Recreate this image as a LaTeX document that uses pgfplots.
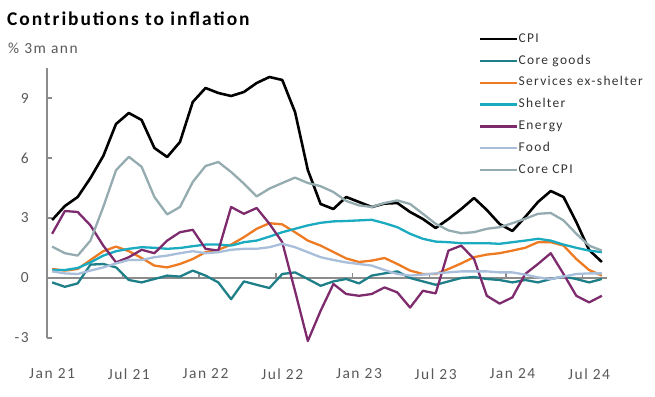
\documentclass[border=0pt]{standalone}
\usepackage{fontspec}
\setmainfont{Carlito}[LetterSpace=10]
\usepackage{pgfplots}
\pgfplotsset{compat=1.18}
\usepackage{pgfplotstable}
\definecolor{cgoods}{HTML}{1E7F88}
\definecolor{csvc}{HTML}{EE7A22}
\definecolor{cshel}{HTML}{1AABC0}
\definecolor{cener}{HTML}{7E2B6E}
\definecolor{cfood}{HTML}{A8BEDA}
\definecolor{ccore}{HTML}{94ABB0}
\definecolor{axgray}{HTML}{8C8C8C}
\definecolor{txtgray}{HTML}{595959}

\pgfplotstableread{
i cpi goods svc shel ener food core
0 2.90 -0.22 0.45 0.40 2.21 0.33 1.57
1 3.60 -0.44 0.37 0.40 3.35 0.23 1.24
2 4.05 -0.27 0.45 0.50 3.30 0.20 1.12
3 5.00 0.67 0.90 0.78 2.63 0.37 1.87
4 6.10 0.70 1.34 1.12 1.62 0.53 3.55
5 7.70 0.53 1.57 1.34 0.78 0.73 5.39
6 8.25 -0.10 1.34 1.46 1.04 0.90 6.06
7 7.90 -0.22 1.00 1.54 1.41 0.90 5.56
8 6.50 -0.05 0.62 1.51 1.24 1.04 4.05
9 6.05 0.12 0.53 1.46 1.87 1.12 3.18
10 6.80 0.07 0.70 1.50 2.29 1.24 3.55
11 8.80 0.37 0.95 1.59 2.41 1.34 4.80
12 9.50 0.12 1.29 1.67 1.46 1.24 5.60
13 9.25 -0.22 1.41 1.67 1.37 1.29 5.80
14 9.10 -1.06 1.67 1.62 3.55 1.41 5.30
15 9.30 -0.17 2.04 1.79 3.21 1.46 4.72
16 9.75 -0.34 2.46 1.87 3.50 1.46 4.08
17 10.05 -0.50 2.74 2.07 2.71 1.54 4.47
18 9.90 0.20 2.68 2.29 1.79 1.71 4.75
19 8.30 0.28 2.29 2.46 -0.65 1.54 5.02
20 5.40 -0.05 1.87 2.63 -3.15 1.29 4.75
21 3.70 -0.39 1.62 2.76 -1.64 1.04 4.59
22 3.45 -0.17 1.30 2.83 -0.30 0.90 4.30
23 4.05 -0.05 0.98 2.85 -0.80 0.78 3.85
24 3.80 -0.27 0.80 2.88 -0.89 0.70 3.63
25 3.55 0.12 0.87 2.91 -0.80 0.62 3.55
26 3.72 0.23 1.00 2.74 -0.47 0.40 3.75
27 3.75 0.33 0.70 2.54 -0.72 0.20 3.88
28 3.30 0.00 0.37 2.21 -1.48 0.12 3.70
29 2.95 -0.17 0.20 1.96 -0.64 0.17 3.21
30 2.50 -0.34 0.20 1.82 -0.77 0.23 2.71
31 2.95 -0.17 0.45 1.79 1.37 0.28 2.38
32 3.45 0.00 0.73 1.74 1.62 0.33 2.24
33 4.00 0.05 1.04 1.74 0.95 0.33 2.29
34 3.40 -0.05 1.17 1.74 -0.89 0.33 2.46
35 2.70 -0.10 1.24 1.71 -1.28 0.28 2.54
36 2.35 -0.22 1.37 1.79 -0.97 0.28 2.74
37 3.05 -0.10 1.51 1.87 0.20 0.17 2.96
38 3.80 -0.22 1.79 1.96 0.70 0.03 3.21
39 4.35 -0.05 1.79 1.87 1.24 -0.05 3.25
40 4.05 0.07 1.62 1.67 0.20 0.07 2.88
41 2.80 -0.05 0.95 1.51 -0.89 0.20 2.21
42 1.40 -0.22 0.40 1.37 -1.22 0.23 1.62
43 0.80 -0.05 0.12 1.29 -0.89 0.23 1.37
}\data

\begin{document}
\begin{tikzpicture}
\path[use as bounding box] (0,0) rectangle (655bp,397bp);
\node[anchor=base west, inner sep=0pt, font=\bfseries\fontsize{19.5}{24}\selectfont] at (7bp,371bp) {Contributions to inflation};
\node[anchor=base west, inner sep=0pt, text=txtgray, font=\fontsize{15.5}{18}\selectfont] at (8bp,343bp) {\% 3m ann};
\begin{axis}[
  at={(47bp,59bp)}, anchor=south west,
  scale only axis, width=560bp, height=270bp,
  xmin=-0.4, xmax=43.4, ymin=-3, ymax=10.5,
  axis y line*=left, axis x line*=bottom,
  x axis line style={draw=none},
  y axis line style={draw=axgray, line width=2bp, -},
  ytick={-3,0,3,6,9},
  ytick style={draw=axgray, line width=1.5bp},
  tick align=inside, major tick length=5bp,
  xtick={0,6,12,18,24,30,36,42},
  xticklabels={Jan 21,Jul 21,Jan 22,Jul 22,Jan 23,Jul 23,Jan 24,Jul 24},
  xtick style={draw=none},
  ticklabel style={font=\fontsize{15.5}{18}\selectfont, text=txtgray},
  /pgf/number format/assume math mode=true,
  xticklabel style={anchor=center, yshift=-36bp},
  yticklabel style={anchor=east, inner sep=0pt, xshift=-18bp},
  extra y ticks={0}, extra y tick labels={},
  extra y tick style={grid=major, major grid style={draw=axgray, line width=2bp}, major tick length=0pt},
  clip=false,
  legend style={at={(0.7714,1.148)}, anchor=north west, draw=none, fill=none, inner sep=0pt,
    font=\fontsize{13.5}{16}\selectfont, text=black!80,
    nodes={inner sep=0pt, text height=14bp, text depth=7.8bp, anchor=west},
    row sep=0pt},
  legend cell align=left,
  legend image code/.code={\draw[#1, line width=2.4bp] (0bp,0bp) -- (37bp,0bp);},
  every axis plot/.append style={line width=2.3bp, line join=round},
]
\pgfplotsinvokeforeach{5.5,11.5,17.5,23.5,29.5,35.5,41.5}{
  \draw[axgray, line width=1.5bp] (axis cs:#1,0) -- (axis cs:#1,0.27);
}
\addplot[black, line width=2.6bp] table[x=i, y=cpi] {\data};
\addlegendentry{CPI}
\addplot[cgoods] table[x=i, y=goods] {\data};
\addlegendentry{Core goods}
\addplot[csvc] table[x=i, y=svc] {\data};
\addlegendentry{Services ex-shelter}
\addplot[cshel] table[x=i, y=shel] {\data};
\addlegendentry{Shelter}
\addplot[cener] table[x=i, y=ener] {\data};
\addlegendentry{Energy}
\addplot[cfood] table[x=i, y=food] {\data};
\addlegendentry{Food}
\addplot[ccore] table[x=i, y=core] {\data};
\addlegendentry{Core CPI}
\end{axis}
\end{tikzpicture}
\end{document}
